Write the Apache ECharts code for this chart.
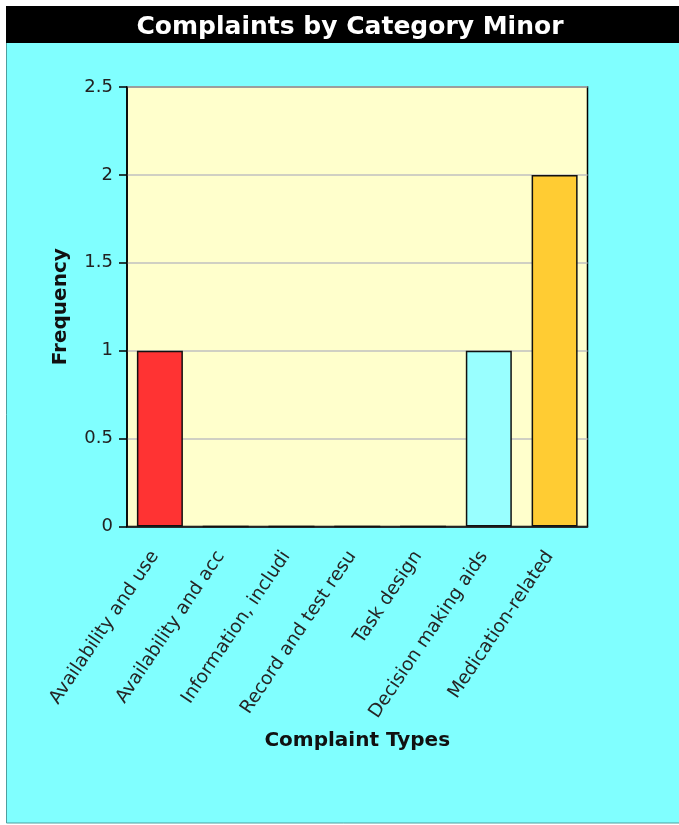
<!DOCTYPE html>
<html>
<head>
<meta charset="utf-8">
<script src="https://cdn.jsdelivr.net/npm/echarts@6/dist/echarts.min.js"></script>
<style>
  html, body { margin: 0; padding: 0; background: #ffffff; }
  #chart { width: 679px; height: 825px; }
</style>
</head>
<body>
<div id="chart"></div>
<script>
// Complaint categories (labels as shown on the axis) and their counts
const categories = [
  'Availability and use',
  'Availability and acc',
  'Information, includi',
  'Record and test resu',
  'Task design',
  'Decision making aids',
  'Medication-related'
];
const frequency = [1, 0, 0, 0, 0, 1, 2];

// Y axis range and step
const yMin = 0;
const yMax = 2.5;
const yStep = 0.5;

// Fill colour per bar
const barColors = ['#ff3333', '#ff3333', '#ff3333', '#ff3333', '#ff3333', '#99ffff', '#ffcc33'];

const FONT = '"DejaVu Sans", Verdana, sans-serif';

const chart = echarts.init(document.getElementById('chart'), null, { renderer: 'canvas' });

chart.setOption({
  animation: false,
  backgroundColor: '#ffffff',
  graphic: [
    {
      type: 'rect', z: -10,
      shape: { x: 6.5, y: 6.5, width: 700, height: 816.5 },
      style: { fill: '#80ffff', stroke: '#4f9f9f', lineWidth: 1 }
    },
    {
      type: 'rect', z: -9,
      shape: { x: 6, y: 6, width: 700, height: 37 },
      style: { fill: '#000000' }
    }
  ],
  title: {
    text: 'Complaints by Category Minor',
    left: 345,
    textAlign: 'center',
    top: 10,
    textStyle: { color: '#ffffff', fontFamily: FONT, fontWeight: 'bold', fontSize: 25 }
  },
  grid: {
    left: 127, right: 91.5, top: 87, bottom: 298.5,
    show: true,
    backgroundColor: '#ffffcc',
    borderColor: '#000000',
    borderWidth: 1.5
  },
  xAxis: {
    type: 'category',
    data: categories,
    boundaryGap: true,
    name: 'Complaint Types',
    nameLocation: 'middle',
    nameGap: 204,
    nameTextStyle: { color: '#111111', fontFamily: FONT, fontWeight: 'bold', fontSize: 20 },
    axisLine: { lineStyle: { color: '#000000', width: 1.5 } },
    axisTick: { alignWithLabel: true, length: 7, lineStyle: { color: '#000000', width: 1.5 } },
    axisLabel: {
      rotate: 56,
      margin: 19,
      padding: [0, 9, 0, 0],
      interval: 0,
      color: '#262626',
      fontFamily: FONT,
      fontSize: 18.5
    },
    splitLine: { show: false }
  },
  yAxis: {
    type: 'value',
    min: yMin,
    max: yMax,
    interval: yStep,
    name: 'Frequency',
    nameLocation: 'middle',
    nameRotate: 90,
    nameGap: 56,
    nameTextStyle: { color: '#111111', fontFamily: FONT, fontWeight: 'bold', fontSize: 20 },
    axisLine: { show: true, lineStyle: { color: '#000000', width: 1.5 } },
    axisTick: { show: true, length: 8, lineStyle: { color: '#000000', width: 1.5 } },
    axisLabel: {
      margin: 14,
      color: '#222222',
      fontFamily: FONT,
      fontSize: 18
    },
    splitLine: { show: true, lineStyle: { color: '#c0c0c0', width: 1.5 } }
  },
  series: [{
    type: 'bar',
    barWidth: 46,
    data: frequency.map((v, i) => ({
      value: v,
      itemStyle: { color: barColors[i] }
    })),
    itemStyle: { borderColor: '#111111', borderWidth: 1.5 }
  }]
});
</script>
</body>
</html>
